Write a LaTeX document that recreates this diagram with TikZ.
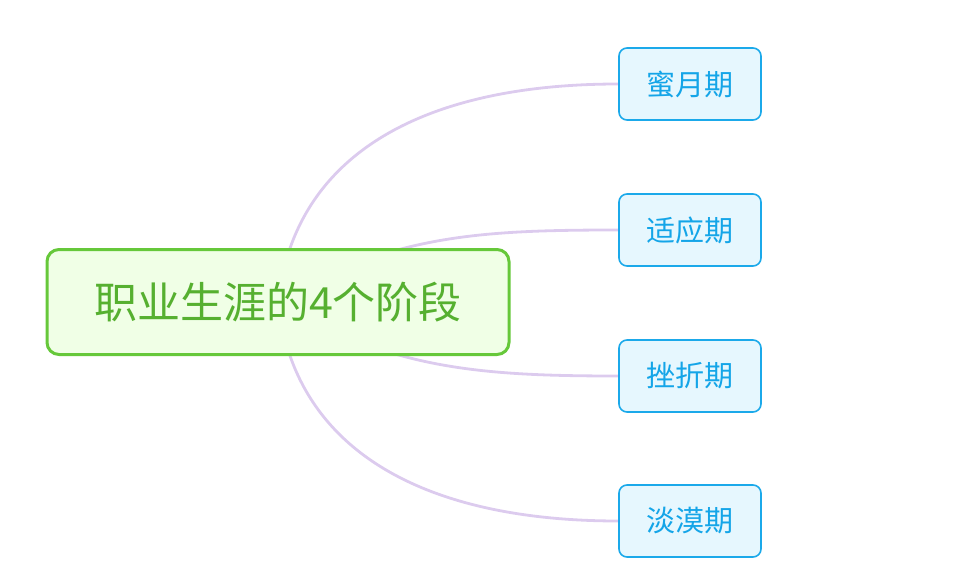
\documentclass[tikz,border=0pt]{standalone}
\usepackage{fontspec}
\setmainfont{Noto Sans CJK SC}
\usetikzlibrary{positioning,backgrounds}
\definecolor{rootline}{HTML}{66C83A}
\definecolor{rootfill}{HTML}{F0FFE6}
\definecolor{roottext}{HTML}{56B030}
\definecolor{leafline}{HTML}{1BA9EA}
\definecolor{leaffill}{HTML}{E6F7FE}
\definecolor{leaftext}{HTML}{14A5E8}
\definecolor{branch}{HTML}{DCCBEE}
\tikzset{
  rootbox/.style={rectangle, rounded corners=12pt, draw=rootline, fill=rootfill, line width=3pt,
                  minimum width=462pt, minimum height=105pt, text=roottext,
                  font=\fontsize{43}{50}\selectfont},
  leafbox/.style={rectangle, rounded corners=8pt, draw=leafline, fill=leaffill, line width=1.6pt,
                  minimum width=142pt, minimum height=72pt, text=leaftext,
                  font=\fontsize{29}{34}\selectfont},
  link/.style={draw=branch, line width=2.8pt},
}
\begin{document}
\begin{tikzpicture}[x=1pt, y=-1pt]
  \useasboundingbox (0,0) rectangle (954,583);

  \node[rootbox] (career) at (278,302) {职业生涯的4个阶段};

  \node[leafbox] (honeymoon) at (690,84) {蜜月期};
  \node[leafbox] (adapt) at (690,230) {适应期};
  \node[leafbox] (setback) at (690,376) {挫折期};
  \node[leafbox] (apathy) at (690,521) {淡漠期};

  % branches behind the boxes
  \begin{scope}[on background layer]
    \draw[link] (career.center) .. controls +(17,-152) and +(-189,0) .. (honeymoon.west);
    \draw[link] (career.center) .. controls +(112,-67) and +(-139,0) .. (adapt.west);
    \draw[link] (career.center) .. controls +(112,67) and +(-139,0) .. (setback.west);
    \draw[link] (career.center) .. controls +(17,152) and +(-189,0) .. (apathy.west);
  \end{scope}

\end{tikzpicture}
\end{document}
